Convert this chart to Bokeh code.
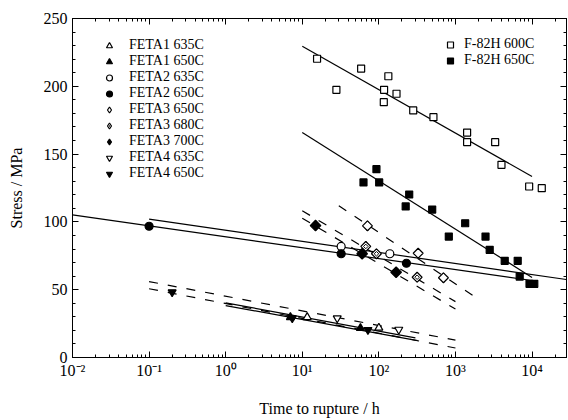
from bokeh.plotting import figure
from bokeh.models import (Range1d, LinearAxis, LogAxis, FixedTicker,
                          CustomJSTickFormatter, Legend, LegendItem)
from bokeh.embed import file_html
from bokeh.resources import INLINE
import numpy as np

# ---------------- data (time to rupture / h, stress / MPa) ----------------
f82h_600_t = [15.6, 27.9, 58.7, 133, 117, 170, 116, 281, 516, 1420, 1420, 3300, 3990, 9170, 13400]
f82h_600_s = [220.3, 197.4, 213.1, 207.4, 197.4, 194.5, 188.3, 182.2, 177.2, 165.9, 158.9, 158.8, 142.1, 126.1, 124.9]
f82h_650_t = [63, 93, 101, 249, 224, 497, 1340, 819, 2470, 2800, 4400, 6500, 6900, 9270, 10700]
f82h_650_s = [129.1, 138.9, 129.1, 120.2, 111.4, 109.1, 99.0, 89.2, 89.2, 79.4, 71.3, 71.3, 59.7, 54.3, 54.3]

feta1_635_t = [11.6, 100]
feta1_635_s = [29.7, 21.9]
feta1_650_t = [7.0, 57.5]
feta1_650_s = [29.7, 21.6]
feta2_635_t = [32.2, 139]
feta2_635_s = [81.9, 76.5]
feta2_650_t = [0.1, 32.2, 229]
feta2_650_s = [96.8, 76.5, 69.5]
feta3_650_t = [71, 326, 697]
feta3_650_s = [97.1, 76.9, 58.8]
feta3_680_t = [67.5, 93, 316]
feta3_680_s = [81.9, 76.5, 59.2]
feta3_700_t = [14.9, 60.5, 168]
feta3_700_s = [97.3, 76.5, 62.9]
feta4_635_t = [28.6, 182]
feta4_635_s = [29.0, 20.6]
feta4_650_t = [0.2, 7.4, 72]
feta4_650_s = [48.2, 29.0, 20.4]

# fitted lines (end points)
fit_f82h_600_t = [10, 10000];   fit_f82h_600_s = [229.5, 133.5]
fit_f82h_650_t = [10, 10000];   fit_f82h_650_s = [166.0, 59.0]
fit_feta2_635_t = [0.1, 28000]; fit_feta2_635_s = [102.0, 57.5]
fit_feta2_650_t = [0.01, 10000]; fit_feta2_650_s = [105.2, 56.8]
fit_feta3_650_t = [30, 2000];   fit_feta3_650_s = [112.0, 42.9]
fit_feta3_680_t = [10, 1000];   fit_feta3_680_s = [108.2, 41.2]
fit_feta3_700_t = [10, 1000];   fit_feta3_700_s = [102.7, 35.7]
fit_feta1_635_t = [1, 300];     fit_feta1_635_s = [40.3, 14.5]
fit_feta1_650_t = [1, 320];     fit_feta1_650_s = [38.3, 12.5]
fit_feta4_635_t = [0.1, 1000];  fit_feta4_635_s = [56.0, 12.8]
fit_feta4_650_t = [0.1, 1000];  fit_feta4_650_s = [50.7, 7.0]

x_major = [1e-2, 1e-1, 1, 10, 100, 1000, 10000]
x_labels = ["10\u207b\u00b2", "10\u207b\u00b9", "10\u2070", "10\u00b9", "10\u00b2", "10\u00b3", "10\u2074"]
x_minor = [m * 10.0 ** k for k in range(-2, 5) for m in range(2, 10)]
y_major = [0, 50, 100, 150, 200, 250]
y_minor = list(range(0, 251, 10))

FONT = "Liberation Serif"

p = figure(width=568, height=420, x_axis_type="log",
           x_range=Range1d(1e-2, 10 ** 4.45), y_range=Range1d(0, 250),
           output_backend="svg", toolbar_location=None,
           min_border_left=72, min_border_top=18, min_border_right=2,
           min_border_bottom=63)
p.grid.visible = False
p.outline_line_color = "black"
p.outline_line_width = 1
p.background_fill_color = "white"
p.border_fill_color = "white"

xt = FixedTicker(ticks=x_major, minor_ticks=x_minor)
yt = FixedTicker(ticks=y_major, minor_ticks=y_minor)
xfmt = CustomJSTickFormatter(args=dict(majors=x_major, labs=x_labels), code="""
for (let i = 0; i < majors.length; i++) {
  if (Math.abs(Math.log10(tick) - Math.log10(majors[i])) < 1e-6) return labs[i];
}
return "";
""")
blank = CustomJSTickFormatter(code="return '';")


def style(ax):
    ax.major_tick_in = 6
    ax.major_tick_out = 0
    ax.minor_tick_in = 3
    ax.minor_tick_out = 0
    ax.axis_line_color = "black"
    ax.major_tick_line_color = "black"
    ax.minor_tick_line_color = "black"
    ax.major_label_text_font = FONT
    ax.major_label_text_font_size = "16px"
    ax.major_label_text_color = "black"
    ax.axis_label_text_font = FONT
    ax.axis_label_text_font_size = "16px"
    ax.axis_label_text_font_style = "normal"
    ax.axis_label_text_color = "black"


xa = p.xaxis[0]
xa.ticker = xt
xa.formatter = xfmt
xa.axis_label = "Time to rupture / h"
style(xa)
xa.major_label_standoff = 4
xa.axis_label_standoff = 18

ya = p.yaxis[0]
ya.ticker = yt
ya.axis_label = "Stress / MPa"
style(ya)
ya.major_label_standoff = 5
ya.axis_label_standoff = 16

top = LogAxis(ticker=xt, formatter=blank)
style(top)
top.major_label_standoff = 0
p.add_layout(top, "above")
right = LinearAxis(ticker=yt, formatter=blank)
style(right)
right.major_label_standoff = 0
p.add_layout(right, "right")

# ---------------- fitted lines ----------------
LW = 1.2
DASH = "9 10"
p.line(fit_f82h_600_t, fit_f82h_600_s, color="black", line_width=LW)
p.line(fit_f82h_650_t, fit_f82h_650_s, color="black", line_width=LW)
p.line(fit_feta2_635_t, fit_feta2_635_s, color="black", line_width=LW)
p.line(fit_feta2_650_t, fit_feta2_650_s, color="black", line_width=LW)
p.line(fit_feta1_635_t, fit_feta1_635_s, color="black", line_width=LW)
p.line(fit_feta1_650_t, fit_feta1_650_s, color="black", line_width=LW)
p.line(fit_feta3_650_t, fit_feta3_650_s, color="black", line_width=LW, line_dash=DASH)
p.line(fit_feta3_680_t, fit_feta3_680_s, color="black", line_width=LW, line_dash=DASH)
p.line(fit_feta3_700_t, fit_feta3_700_s, color="black", line_width=LW, line_dash=DASH)
p.line(fit_feta4_635_t, fit_feta4_635_s, color="black", line_width=LW, line_dash=DASH)
p.line(fit_feta4_650_t, fit_feta4_650_s, color="black", line_width=LW, line_dash=DASH)

# ---------------- markers ----------------
ML = 1.2
r_a1_635 = p.scatter(feta1_635_t, feta1_635_s, marker="triangle", size=8,
                     fill_color="white", line_color="black", line_width=ML)
r_a1_650 = p.scatter(feta1_650_t, feta1_650_s, marker="triangle", size=8,
                     fill_color="black", line_color="black", line_width=ML)
r_a2_635 = p.scatter(feta2_635_t, feta2_635_s, marker="circle", size=8,
                     fill_color="white", line_color="black", line_width=ML)
r_a2_650 = p.scatter(feta2_650_t, feta2_650_s, marker="circle", size=8,
                     fill_color="black", line_color="black", line_width=ML)

# diamond glyphs used by the legend (drawn first, covered by the rotated squares)
leg_a3_650 = p.scatter(feta3_650_t, feta3_650_s, marker="diamond", size=9.5,
                       fill_color="white", line_color="black", line_width=ML)
leg_a3_680 = p.scatter(feta3_680_t, feta3_680_s, marker="diamond_dot", size=9.5,
                       fill_color="white", line_color="black", line_width=ML)
leg_a3_700 = p.scatter(feta3_700_t, feta3_700_s, marker="diamond", size=9.5,
                       fill_color="black", line_color="black", line_width=ML)

p.scatter(feta3_650_t, feta3_650_s, marker="square", angle=np.pi / 4, size=7,
          fill_color="white", line_color="black", line_width=ML)
p.scatter(feta3_680_t, feta3_680_s, marker="square", angle=np.pi / 4, size=7,
          fill_color="white", line_color="black", line_width=ML)
p.scatter(feta3_680_t, feta3_680_s, marker="square", angle=np.pi / 4, size=3.2,
          fill_color="white", line_color="black", line_width=1.0)
p.scatter(feta3_700_t, feta3_700_s, marker="square", angle=np.pi / 4, size=7.5,
          fill_color="black", line_color="black", line_width=ML)
r_a4_635 = p.scatter(feta4_635_t, feta4_635_s, marker="inverted_triangle", size=8,
                     fill_color="white", line_color="black", line_width=ML)
r_a4_650 = p.scatter(feta4_650_t, feta4_650_s, marker="inverted_triangle", size=8,
                     fill_color="black", line_color="black", line_width=ML)
r_f600 = p.scatter(f82h_600_t, f82h_600_s, marker="square", size=7,
                   fill_color="white", line_color="black", line_width=ML)
r_f650 = p.scatter(f82h_650_t, f82h_650_s, marker="square", size=7,
                   fill_color="black", line_color="black", line_width=ML)


def make_legend(items, loc, standoff):
    lg = Legend(items=items, location=loc, orientation="vertical",
                border_line_alpha=0, background_fill_alpha=0,
                label_text_font=FONT, label_text_font_size="14px",
                label_text_color="black",
                glyph_width=20, glyph_height=15, label_height=15,
                spacing=0, padding=0, margin=0, label_standoff=standoff)
    p.add_layout(lg)


make_legend([
    LegendItem(label="FETA1 635C", renderers=[r_a1_635]),
    LegendItem(label="FETA1 650C", renderers=[r_a1_650]),
    LegendItem(label="FETA2 635C", renderers=[r_a2_635]),
    LegendItem(label="FETA2 650C", renderers=[r_a2_650]),
    LegendItem(label="FETA3 650C", renderers=[leg_a3_650]),
    LegendItem(label="FETA3 680C", renderers=[leg_a3_680]),
    LegendItem(label="FETA3 700C", renderers=[leg_a3_700]),
    LegendItem(label="FETA4 635C", renderers=[r_a4_635]),
    LegendItem(label="FETA4 650C", renderers=[r_a4_650]),
], (27, 176), 10)

make_legend([
    LegendItem(label="F-82H 600C", renderers=[r_f600]),
    LegendItem(label="F-82H 650C", renderers=[r_f650]),
], (368, 289), 4)

open("out.html", "w").write(file_html(p, INLINE))
